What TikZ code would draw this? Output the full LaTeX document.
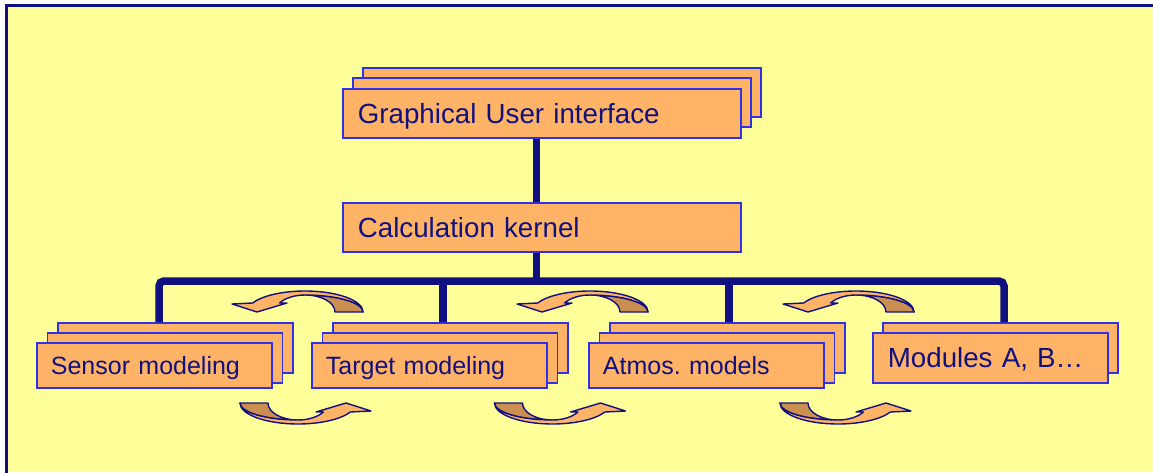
\documentclass[tikz,border=0pt]{standalone}
\usepackage{fontspec}
\setmainfont{Liberation Sans}
\usetikzlibrary{positioning}

\definecolor{paper}{RGB}{255,255,153}
\definecolor{navy}{RGB}{16,16,128}
\definecolor{boxline}{RGB}{48,48,230}
\definecolor{boxfill}{RGB}{255,179,102}
\definecolor{tailfill}{RGB}{204,143,82}

\newcommand{\bigtxt}{\fontsize{27.7}{32}\selectfont}
\newcommand{\smalltxt}{\fontsize{25}{30}\selectfont}

\tikzset{
  ribbon/.style={draw=navy, line width=1.4pt, line join=round},
  % curved swap arrow, head on the left
  cyclearrow/.pic={
    \filldraw[ribbon, fill=tailfill] (30,0)
      arc[start angle=0, end angle=90, x radius=30pt, y radius=17pt]
      arc[start angle=90, end angle=0, x radius=58pt, y radius=17pt] -- cycle;
    \filldraw[ribbon, fill=boxfill] (58,0)
      arc[start angle=0, end angle=154.6, x radius=58pt, y radius=21pt]
      -- (-73,8) -- (-48,0) -- (-18,9) -- (-25.4,9)
      arc[start angle=148, end angle=90, x radius=30pt, y radius=17pt]
      arc[start angle=90, end angle=0, x radius=58pt, y radius=17pt] -- cycle;
  }
}

\begin{document}
\frenchspacing
\begin{tikzpicture}[x=1pt, y=1pt,
  card/.style={draw=boxline, line width=1.8pt, fill=boxfill, inner sep=0pt, anchor=north west},
  wide/.style={card, minimum width=398pt, minimum height=49pt},
  narrow/.style={card, minimum width=235pt, minimum height=50pt},
  bigtext/.style={text=navy, font=\bigtxt, align=left, inner xsep=15pt, text width=368pt, text height=20pt, text depth=0pt},
  smalltext/.style={text=navy, font=\smalltxt, align=left, inner xsep=14pt, text width=207pt, text height=18pt, text depth=0pt},
  bus/.style={draw=navy, line width=7.5pt}]

  \useasboundingbox (0,0) rectangle (1153,472);
  \clip (0,0) rectangle (1153,472);
  \fill[white] (0,0) rectangle (1153,472);
  \fill[paper] (6,0) rectangle (1153,466);
  \draw[navy, line width=3pt] (6,-5) -- (6,466) -- (1160,466);

  % upper stack
  \node[wide] (gui3) at (362,405) {};
  \node[wide] (gui2) at ([shift={(-10,-10.5)}]gui3.north west) {};
  \node[wide, bigtext] (gui) at ([shift={(-10,-10.5)}]gui2.north west) {Graphical User interface};
  \node[wide, bigtext, below=63pt of gui] (kernel) {Calculation kernel};

  % module stacks
  \node[narrow] (sensor3) at (57,150) {};
  \node[narrow] (sensor2) at ([shift={(-10.5,-10)}]sensor3.north west) {};
  \node[narrow, smalltext, minimum height=45pt] (sensor) at ([shift={(-10.5,-10)}]sensor2.north west) {Sensor modeling};

  \node[narrow] (target3) at (332,150) {};
  \node[narrow] (target2) at ([shift={(-10.5,-10)}]target3.north west) {};
  \node[narrow, smalltext, minimum height=45pt] (target) at ([shift={(-10.5,-10)}]target2.north west) {Target modeling};

  \node[narrow] (atmos3) at (609,150) {};
  \node[narrow] (atmos2) at ([shift={(-10.5,-10)}]atmos3.north west) {};
  \node[narrow, smalltext, minimum height=45pt] (atmos) at ([shift={(-10.5,-10)}]atmos2.north west) {Atmos.\ models};

  \node[narrow] (modules2) at (882,150) {};
  \node[narrow, bigtext, text width=205pt] (modules) at ([shift={(-10,-10)}]modules2.north west) {Modules A, B…};

  % bus
  \coordinate (bk) at (536.5,191);
  \coordinate (b1) at (159,191);
  \coordinate (b2) at (443,191);
  \coordinate (b3) at (729,191);
  \coordinate (b4) at (1004,191);
  \draw[bus] (bk |- gui.south) -- (bk |- kernel.north);
  \draw[bus] (bk |- kernel.south) -- (bk);
  \draw[bus, rounded corners=5pt] (b1 |- sensor3.north) -- (b1) -- (b4) -- (b4 |- modules2.north);
  \draw[bus] (b2) -- (b2 |- target3.north);
  \draw[bus] (b3) -- (b3 |- atmos3.north);

  % swap arrows
  \foreach \x in {305,590,856} \pic at (\x,160) {cyclearrow};
  \foreach \x in {298,552.5,838} \pic[rotate=180] at (\x,69) {cyclearrow};
\end{tikzpicture}
\end{document}
